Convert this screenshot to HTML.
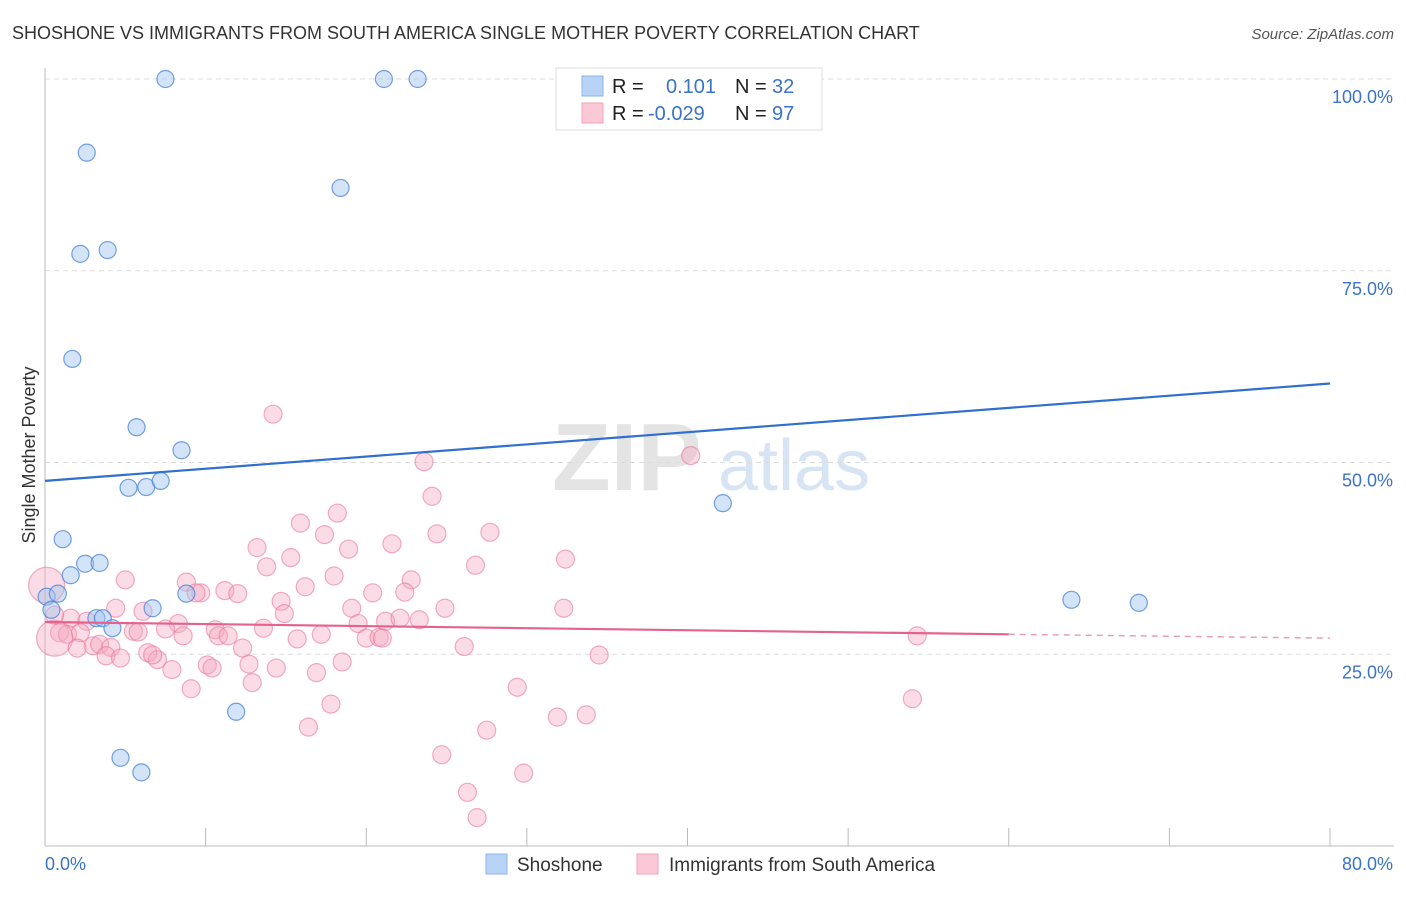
<!DOCTYPE html>
<html><head><meta charset="utf-8">
<style>
body{margin:0;background:#fff;font-family:"Liberation Sans",sans-serif;}
svg text{font-family:"Liberation Sans",sans-serif;}
</style></head>
<body>
<svg id="chart" width="1406" height="892" xmlns="http://www.w3.org/2000/svg">
<text x="12" y="39" font-size="18" fill="#333">SHOSHONE VS IMMIGRANTS FROM SOUTH AMERICA SINGLE MOTHER POVERTY CORRELATION CHART</text>
<text x="1394" y="39" font-size="15" fill="#555" font-style="italic" text-anchor="end">Source: ZipAtlas.com</text>
<text x="35" y="455" font-size="18" fill="#333" transform="rotate(-90 35 455)" text-anchor="middle">Single Mother Poverty</text>
<g><text x="552" y="490" font-size="96" fill="#e4e4e4" font-family="Liberation Serif" font-weight="bold">ZIP</text><text x="718" y="490" font-size="72" fill="#d6e4f3">atlas</text></g>
<g id="grid"></g>
<g id="axes"></g>
<g id="marks"></g>
<g>
<rect x="556" y="68" width="266" height="62" fill="#fff" stroke="#ddd"/>
<rect x="582" y="76" width="21" height="20" fill="#b8d3f5" stroke="#8ab4ec"/>
<text x="612" y="93" font-size="20" fill="#222">R =</text>
<text x="666" y="93" font-size="20" fill="#3b73c8">0.101</text>
<text x="735" y="93" font-size="20" fill="#222">N =</text>
<text x="772" y="93" font-size="20" fill="#3b73c8">32</text>
<rect x="582" y="103" width="21" height="20" fill="#fbc8d6" stroke="#f2a3bb"/>
<text x="612" y="120" font-size="20" fill="#222">R =</text>
<text x="648" y="120" font-size="20" fill="#3b73c8">-0.029</text>
<text x="735" y="120" font-size="20" fill="#222">N =</text>
<text x="772" y="120" font-size="20" fill="#3b73c8">97</text>
</g>
<g>
<rect x="486" y="854" width="21" height="20" fill="#b8d3f5" stroke="#8ab4ec"/>
<text x="517" y="871" font-size="19" fill="#333">Shoshone</text>
<rect x="637" y="854" width="21" height="20" fill="#fbc8d6" stroke="#f2a3bb"/>
<text x="669" y="871" font-size="19" fill="#333">Immigrants from South America</text>
</g>
</svg>
<script>
const blueX=[7.5,21.1,23.2,36.9,2.6,18.4,2.2,3.9,1.7,5.7,8.5,5.2,6.3,7.2,42.2,1.1,1.6,2.5,3.4,0.1,0.8,0.4,6.7,8.8,3.2,3.6,4.2,11.9,4.7,6.0,63.9,68.1];
const blueY=[100,100,100,100,90.4,85.8,77.2,77.7,63.5,54.6,51.6,46.7,46.8,47.6,44.7,40.0,35.3,36.8,36.9,32.5,32.9,30.8,31.0,32.9,29.7,29.7,28.4,17.5,11.5,9.6,32.1,31.7];
const pinkX=[14.2,23.6,40.2,24.1,15.9,18.2,17.4,24.4,27.7,13.2,18.9,21.6,15.3,13.8,26.8,32.4,5.0,8.8,18.0,22.8,16.2,9.7,11.2,12.0,9.4,20.4,22.4,14.7,4.4,6.1,19.1,24.9,32.3,14.9,1.6,2.6,21.2,22.1,23.3,8.3,19.5,5.5,7.5,10.6,13.6,0.9,1.4,2.2,5.8,8.6,10.8,11.4,15.7,17.2,20.0,20.8,21.0,54.3,0.6,0.1,0.6,3.0,3.4,4.1,2.0,12.3,26.1,6.4,3.8,4.7,7.0,6.7,34.5,18.5,10.1,10.4,12.7,14.4,7.9,16.9,12.9,9.1,29.4,54.0,17.8,31.9,33.7,16.4,27.5,24.7,29.8,26.3,26.9];
const pinkY=[56.3,50.1,50.9,45.6,42.1,43.4,40.6,40.7,40.9,38.9,38.7,39.4,37.6,36.4,36.6,37.4,34.7,34.4,35.2,34.7,33.8,33.0,33.3,32.9,33.0,33.0,33.1,31.9,31.0,30.6,31.0,31.0,31.0,30.3,29.7,29.3,29.3,29.7,29.5,29.0,29.0,28.0,28.3,28.2,28.4,27.8,27.6,27.8,27.9,27.4,27.4,27.4,27.0,27.6,27.1,27.2,27.1,27.4,27.1,34.0,30.1,26.1,26.3,25.9,25.8,25.8,26.0,25.2,24.8,24.5,24.3,24.9,24.9,24.0,23.6,23.2,23.7,23.2,23.0,22.6,21.3,20.5,20.7,19.2,18.5,16.8,17.1,15.5,15.1,11.9,9.5,7.0,3.7];
const pinkBig=[58,59];
const yTicks=[25,50,75,100];
const yTickLabels=["25.0%","50.0%","75.0%","100.0%"];
const xTicks=[0,10,20,30,40,50,60,70,80];
const blueTrend=[47.6,60.3];
const pinkTrend=[29.2,27.6,27.1];
const pinkTrendX=[0,60,80];

const NS="http://www.w3.org/2000/svg";
const sx=v=>45+v/80*1285, sy=v=>846-v/100*767;
function mk(tag,attrs,parent){const e=document.createElementNS(NS,tag);for(const k in attrs)e.setAttribute(k,attrs[k]);parent.appendChild(e);return e;}
const grid=document.getElementById('grid'),axes=document.getElementById('axes'),marks=document.getElementById('marks');
yTicks.forEach((t,i)=>{
  const l=mk('line',{x1:45,x2:1394,y1:sy(t),y2:sy(t),stroke:'#ddd','stroke-dasharray':'5,4'},grid);
  
  
  const tx=mk('text',{x:1393,y:sy(t)+24,'font-size':18,fill:'#3b73c8','text-anchor':'end'},axes);
  tx.textContent=yTickLabels[i];
  
  
});
const ax=mk('line',{x1:45,x2:45,y1:68,y2:846,stroke:'#bbb'},axes);


const bx=mk('line',{x1:45,x2:1394,y1:846,y2:846,stroke:'#bbb'},axes);


xTicks.forEach(t=>{
  const l=mk('line',{x1:sx(t),x2:sx(t),y1:828,y2:846,stroke:'#bbb'},axes);
  
  
});
const x0=mk('text',{x:45,y:870,'font-size':18,fill:'#3b73c8'},axes);x0.textContent="0.0%";


const x1=mk('text',{x:1393,y:870,'font-size':18,fill:'#3b73c8','text-anchor':'end'},axes);x1.textContent="80.0%";



pinkX.forEach((x,i)=>{
  const big=pinkBig.includes(i);
  const c=mk('circle',{cx:sx(x),cy:sy(pinkY[i]),r:big?18:9,fill:'rgba(246,167,192,0.4)',stroke:'rgba(232,120,155,0.6)','stroke-width':1.2},marks);
  
  
});
blueX.forEach((x,i)=>{
  const c=mk('circle',{cx:sx(x),cy:sy(blueY[i]),r:8.5,fill:'rgba(160,196,240,0.45)',stroke:'rgba(70,130,215,0.75)','stroke-width':1.2},marks);
  
  
});
const bl=mk('line',{x1:sx(0),y1:sy(blueTrend[0]),x2:sx(80),y2:sy(blueTrend[1]),stroke:'#2f6fcf','stroke-width':2.2},marks);


const pl=mk('line',{x1:sx(pinkTrendX[0]),y1:sy(pinkTrend[0]),x2:sx(pinkTrendX[1]),y2:sy(pinkTrend[1]),stroke:'#e4628c','stroke-width':2.2},marks);


const pd=mk('line',{x1:sx(pinkTrendX[1]),y1:sy(pinkTrend[1]),x2:sx(pinkTrendX[2]),y2:sy(pinkTrend[2]),stroke:'#e4a0b5','stroke-width':1.5,'stroke-dasharray':'6,5'},marks);


</script>
</body></html>
